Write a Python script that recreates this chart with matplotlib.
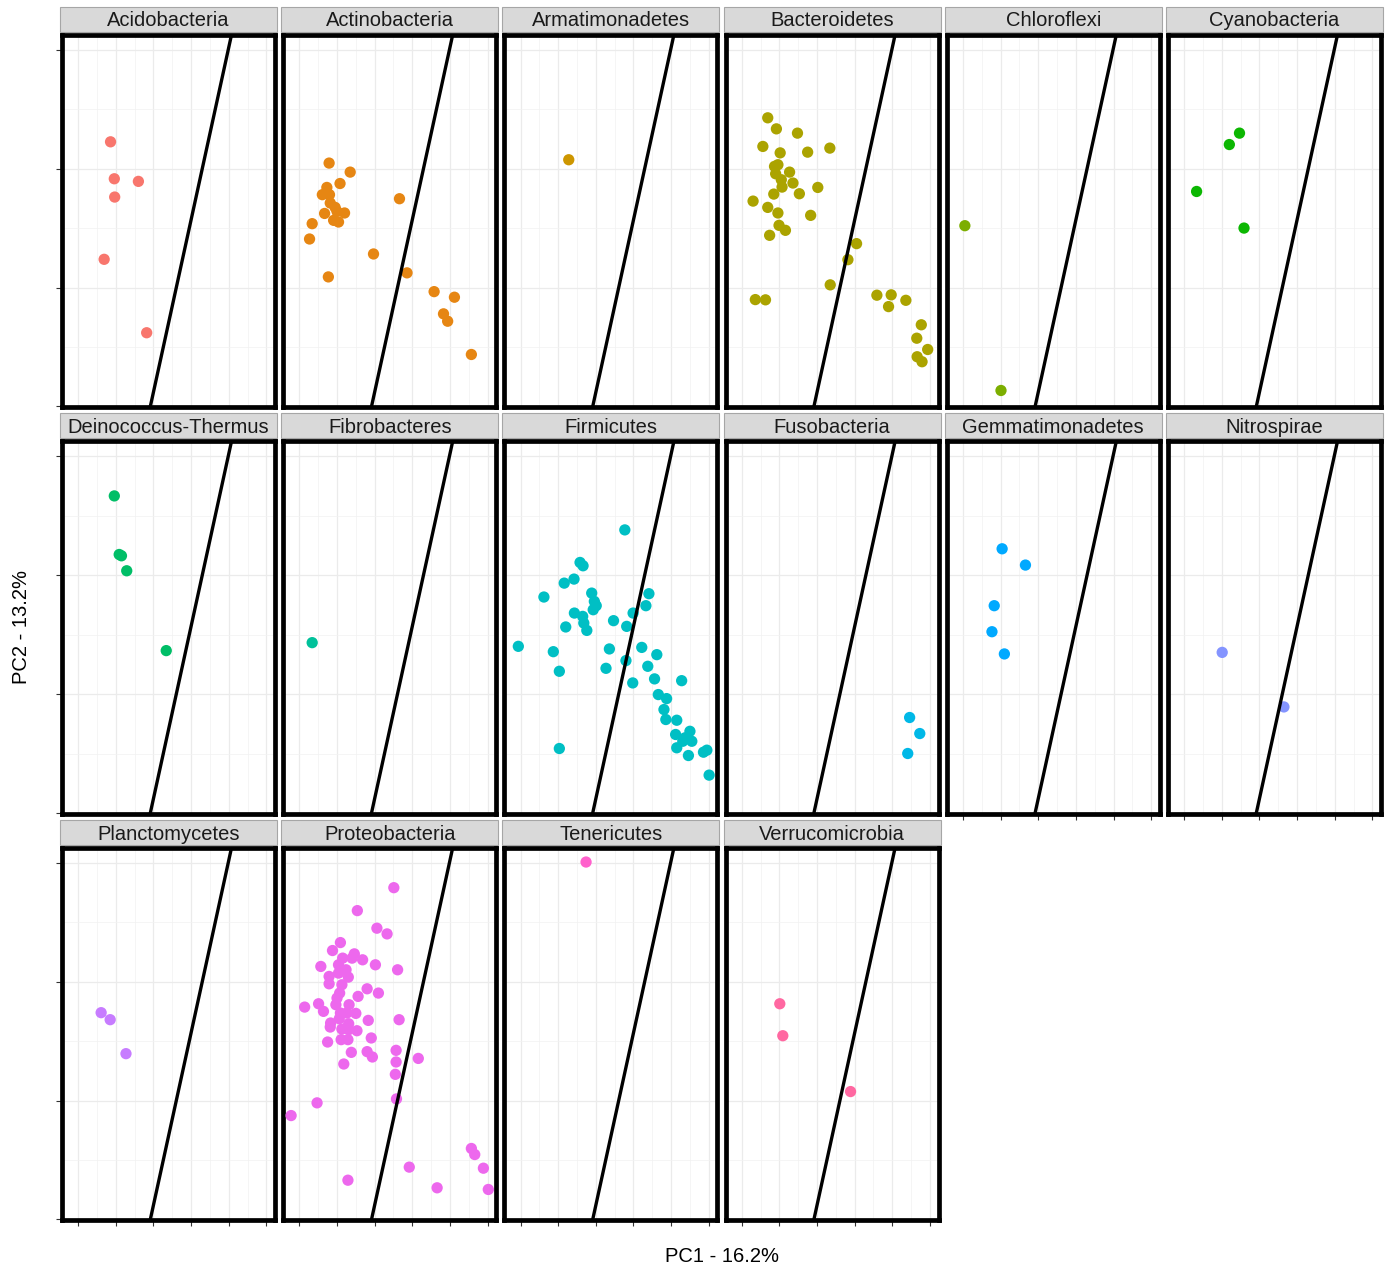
import numpy as np
import matplotlib
matplotlib.use("Agg")
import matplotlib.pyplot as plt
from matplotlib.patches import Rectangle

plt.rcParams['font.family'] = ['Liberation Sans', 'DejaVu Sans']

# PCA scores per phylum (PC1 = x, PC2 = y)
acido_x = [-0.214, -0.204, -0.140, -0.203, -0.231, -0.118]
acido_y = [0.0227, -0.0084, -0.0106, -0.0238, -0.0762, -0.138]

actino_x = [-0.221, -0.165, -0.192, -0.227, -0.239, -0.220, -0.218, -0.205, -0.200, -0.180,
            -0.233, -0.209, -0.196, -0.266, -0.273, -0.034, -0.103, -0.223, -0.014, 0.058,
            0.112, 0.083, 0.094, 0.157]
actino_y = [0.0048, -0.0028, -0.0124, -0.0157, -0.0218, -0.0218, -0.0288, -0.0325, -0.0359, -0.0372,
            -0.0376, -0.0434, -0.0448, -0.0462, -0.0591, -0.0252, -0.0717, -0.0910, -0.0876, -0.1034,
            -0.1081, -0.1221, -0.1283, -0.1563]

armat_x = [-0.172]
armat_y = [0.0076]

bactero_x = [-0.231, -0.208, -0.152, -0.244, -0.198, -0.125, -0.066, -0.213, -0.204, -0.210,
             -0.173, -0.195, -0.164, -0.193, -0.098, -0.215, -0.147, -0.270, -0.231, -0.204,
             -0.117, -0.201, -0.184, -0.226, 0.005, -0.018, -0.065, -0.264, -0.237, 0.059,
             0.097, 0.090, 0.136, 0.177, 0.165, 0.194, 0.166, 0.179]
bactero_y = [0.0429, 0.0336, 0.0300, 0.0188, 0.0134, 0.0140, 0.0174, 0.0020, 0.0034, -0.0042,
             -0.0028, -0.0092, -0.0120, -0.0154, -0.0157, -0.0213, -0.0210, -0.0272, -0.0325, -0.0372,
             -0.0392, -0.0476, -0.0518, -0.0560, -0.0630, -0.0765, -0.0977, -0.1101, -0.1103, -0.1064,
             -0.1061, -0.1160, -0.1107, -0.1313, -0.1426, -0.1521, -0.1582, -0.1624]

chloro_x = [-0.295, -0.199]
chloro_y = [-0.0479, -0.1866]

cyano_x = [-0.153, -0.180, -0.267, -0.141]
cyano_y = [0.0300, 0.0204, -0.0191, -0.0499]

deino_x = [-0.204, -0.191, -0.185, -0.171, -0.066]
deino_y = [0.0668, 0.0175, 0.0164, 0.0038, -0.0634]

fibro_x = [-0.266]
fibro_y = [-0.0567]

firmi_x = [-0.023, -0.142, -0.134, -0.158, -0.184, -0.238, -0.111, -0.104, -0.099, -0.107,
           0.041, 0.033, -0.157, -0.135, -0.132, -0.124, -0.180, -0.053, -0.001, -0.018,
           -0.306, -0.213, -0.197, -0.064, -0.073, -0.020, 0.022, 0.062, 0.038, -0.002,
           0.056, 0.128, 0.066, 0.088, 0.081, 0.086, 0.115, 0.112, 0.150, 0.155,
           0.131, 0.115, 0.146, 0.186, 0.195, -0.197, 0.201, 0.137]
firmi_y = [0.0382, 0.0108, 0.0080, -0.0032, -0.0066, -0.0183, -0.0150, -0.0220, -0.0256, -0.0290,
           -0.0155, -0.0256, -0.0318, -0.0346, -0.0402, -0.0464, -0.0435, -0.0382, -0.0318, -0.0430,
           -0.0598, -0.0643, -0.0808, -0.0620, -0.0783, -0.0718, -0.0607, -0.0668, -0.0766, -0.0906,
           -0.0872, -0.0887, -0.1004, -0.1038, -0.1130, -0.1214, -0.1220, -0.1340, -0.1313, -0.1397,
           -0.1397, -0.1452, -0.1517, -0.1489, -0.1472, -0.1458, -0.1682, -0.1368]

fuso_x = [0.146, 0.173, 0.141]
fuso_y = [-0.1197, -0.1332, -0.1500]

gemma_x = [-0.196, -0.134, -0.217, -0.223, -0.190]
gemma_y = [0.0223, 0.0086, -0.0256, -0.0475, -0.0662]

nitro_x = [-0.199, -0.035]
nitro_y = [-0.0649, -0.1108]

plancto_x = [-0.239, -0.215, -0.173]
plancto_y = [-0.0260, -0.0319, -0.0605]

proteo_x = [-0.049, -0.146, -0.094, -0.067, -0.191, -0.212, -0.154, -0.185, -0.160, -0.132,
            -0.243, -0.196, -0.098, -0.039, -0.176, -0.196, -0.221, -0.170, -0.221, -0.187,
            -0.120, -0.090, -0.193, -0.144, -0.200, -0.249, -0.286, -0.203, -0.168, -0.236,
            -0.191, -0.150, -0.174, -0.194, -0.117, -0.035, -0.217, -0.169, -0.218, -0.187,
            -0.169, -0.147, -0.109, -0.225, -0.189, -0.171, -0.043, -0.162, -0.120, -0.106,
            0.016, -0.043, -0.182, -0.045, -0.042, -0.253, -0.322, 0.157, 0.166, -0.008,
            0.189, -0.171, 0.066, 0.202]
proteo_y = [0.0792, 0.0599, 0.0451, 0.0403, 0.0330, 0.0263, 0.0235, 0.0199, 0.0199, 0.0185,
            0.0129, 0.0143, 0.0143, 0.0101, 0.0101, 0.0073, 0.0045, 0.0039, -0.0017, -0.0025,
            -0.0059, -0.0095, -0.0095, -0.0123, -0.0137, -0.0185, -0.0213, -0.0193, -0.0193, -0.0249,
            -0.0263, -0.0266, -0.0263, -0.0311, -0.0325, -0.0319, -0.0347, -0.0353, -0.0381, -0.0398,
            -0.0403, -0.0412, -0.0473, -0.0507, -0.0487, -0.0487, -0.0577, -0.0594, -0.0588, -0.0633,
            -0.0645, -0.0675, -0.0692, -0.0779, -0.0986, -0.1019, -0.1126, -0.1403, -0.1454, -0.1560,
            -0.1569, -0.1670, -0.1734, -0.1748]

teneri_x = [-0.126]
teneri_y = [0.1008]

verruco_x = [-0.199, -0.191, -0.011]
verruco_y = [-0.0185, -0.0454, -0.0924]

phyla = ['Acidobacteria', 'Actinobacteria', 'Armatimonadetes', 'Bacteroidetes', 'Chloroflexi',
         'Cyanobacteria', 'Deinococcus-Thermus', 'Fibrobacteres', 'Firmicutes', 'Fusobacteria',
         'Gemmatimonadetes', 'Nitrospirae', 'Planctomycetes', 'Proteobacteria', 'Tenericutes',
         'Verrucomicrobia']
xs = [acido_x, actino_x, armat_x, bactero_x, chloro_x, cyano_x, deino_x, fibro_x,
      firmi_x, fuso_x, gemma_x, nitro_x, plancto_x, proteo_x, teneri_x, verruco_x]
ys = [acido_y, actino_y, armat_y, bactero_y, chloro_y, cyano_y, deino_y, fibro_y,
      firmi_y, fuso_y, gemma_y, nitro_y, plancto_y, proteo_y, teneri_y, verruco_y]

# separating line
line_intercept = -0.043
line_slope = 1.45


def hue_pal(n, c=100, l=65):
    # ggplot2 default discrete palette (HCL -> sRGB)
    hues = np.linspace(15, 375, n + 1)[:-1]
    xn, yn, zn = 95.047, 100.0, 108.883
    un = 4 * xn / (xn + 15 * yn + 3 * zn)
    vn = 9 * yn / (xn + 15 * yn + 3 * zn)
    out = []
    for h in hues:
        u = c * np.cos(np.radians(h))
        v = c * np.sin(np.radians(h))
        Y = yn * ((l + 16) / 116) ** 3
        up = u / (13 * l) + un
        vp = v / (13 * l) + vn
        X = 9 * Y * up / (4 * vp)
        Z = -X / 3 - 5 * Y + 3 * Y / vp
        xyz = np.array([X, Y, Z]) / 100
        m = np.array([[3.240479, -1.537150, -0.498535],
                      [-0.969256, 1.875992, 0.041556],
                      [0.055648, -0.204043, 1.057311]])
        rgb = m @ xyz
        rgb = np.where(rgb <= 0.0031308, 12.92 * rgb, 1.055 * np.abs(rgb) ** (1 / 2.4) - 0.055)
        out.append(np.clip(rgb, 0, 1))
    return out


colors = hue_pal(len(phyla))

W, H = 1390, 1270
fig = plt.figure(figsize=(W / 100, H / 100), dpi=100)

pw, ph = 213, 372
xmaj = [-0.3, -0.2, -0.1, 0.0, 0.1, 0.2]
xmin = [-0.25, -0.15, -0.05, 0.05, 0.15]
ymaj = [-0.2, -0.1, 0.0, 0.1]
ymin = [-0.15, -0.05, 0.05]

for i, name in enumerate(phyla):
    r, c = divmod(i, 6)
    left = 62 + 221.2 * c
    top = 35 + 406.5 * r
    ax = fig.add_axes([left / W, 1 - (top + ph) / H, pw / W, ph / H])
    ax.set_xlim(-0.343, 0.223)
    ax.set_ylim(-0.2005, 0.1126)
    ax.set_xticks(xmaj)
    ax.set_xticks(xmin, minor=True)
    ax.set_yticks(ymaj)
    ax.set_yticks(ymin, minor=True)
    ax.set_xticklabels([])
    ax.set_yticklabels([])
    ax.grid(which='major', color='#EBEBEB', lw=0.9)
    ax.grid(which='minor', color='#F2F2F2', lw=0.5)
    ax.set_axisbelow(True)

    has_x = (r == 2) or (r == 1 and c >= 4)
    has_y = (c == 0)
    ax.tick_params(which='minor', length=0)
    ax.tick_params(axis='x', which='major', length=4 if has_x else 0, width=0.8, color='#333333')
    ax.tick_params(axis='y', which='major', length=4 if has_y else 0, width=0.8, color='#333333')

    for sp in ax.spines.values():
        sp.set_linewidth(3.4)
        sp.set_color('black')

    ax.scatter(xs[i], ys[i], s=66, color=colors[i], edgecolors='none', zorder=3)
    ax.axline((0, line_intercept), slope=line_slope, color='black', lw=2.4, zorder=4)

    # facet strip
    ax.add_patch(Rectangle((-2 / pw, 1 + 3 / ph), 1 + 4 / pw, 25 / ph, transform=ax.transAxes,
                           facecolor='#D9D9D9', edgecolor='#A6A6A6', lw=0.8, clip_on=False))
    ax.text(0.5, 1 + 14 / ph, name, transform=ax.transAxes, ha='center', va='center',
            fontsize=14.5, color='#1A1A1A')

fig.text(722 / W, 1 - 1257 / H, 'PC1 - 16.2%', ha='center', va='center', fontsize=14.5)
fig.text(22 / W, 1 - 627 / H, 'PC2 - 13.2%', ha='center', va='center', rotation=90, fontsize=14.5)

fig.savefig('out.png', dpi=100)
